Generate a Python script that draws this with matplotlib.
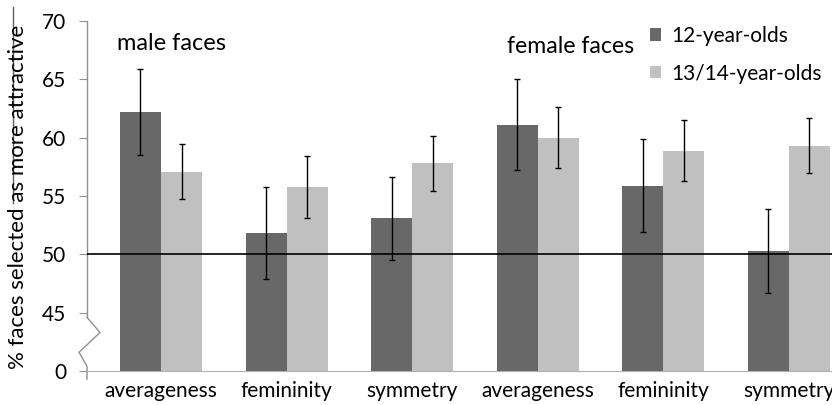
import matplotlib
matplotlib.use("Agg")
import matplotlib.pyplot as plt
from matplotlib.lines import Line2D
import numpy as np

plt.rcParams['font.family'] = ['Lato', 'DejaVu Sans']

# data
categories = ['averageness', 'femininity', 'symmetry',
              'averageness', 'femininity', 'symmetry']
age12 = [62.2, 51.8, 53.1, 61.1, 55.9, 50.3]
age12_err = [3.65, 3.95, 3.55, 3.9, 4.0, 3.6]
age1314 = [57.1, 55.8, 57.8, 60.0, 58.9, 59.3]
age1314_err = [2.35, 2.65, 2.35, 2.6, 2.65, 2.35]
series_names = ['12-year-olds', '13/14-year-olds']
tick_values = [40, 45, 50, 55, 60, 65, 70]
tick_labels = ['0', '45', '50', '55', '60', '65', '70']

dark = '#686868'
light = '#c0c0c0'
base = 40  # the broken axis: "0" sits at the 40 position

fig = plt.figure(figsize=(8.32, 4.05), dpi=100)
ax = fig.add_axes([0.1046, 0.084, 0.8954, 0.864])

x = np.arange(len(categories))
w = 0.327
ax.bar(x - w/2, np.array(age12) - base, w, bottom=base, color=dark,
       label=series_names[0], zorder=2)
ax.bar(x + w/2, np.array(age1314) - base, w, bottom=base, color=light,
       label=series_names[1], zorder=2)
ax.errorbar(x - w/2, age12, yerr=age12_err, fmt='none', ecolor='black',
            elinewidth=1, capsize=2.5, capthick=1, zorder=3)
ax.errorbar(x + w/2, age1314, yerr=age1314_err, fmt='none', ecolor='black',
            elinewidth=1, capsize=2.5, capthick=1, zorder=3)

ax.axhline(50, color='black', lw=1.2, zorder=4)

ax.set_xlim(-0.589, 5.343)
ax.set_ylim(40, 70)
ax.set_yticks(tick_values)
ax.set_yticklabels(tick_labels, fontsize=15)
ax.set_xticks(x)
ax.set_xticklabels(categories, fontsize=15)
ax.tick_params(axis='x', length=0, pad=7)
ax.tick_params(axis='y', length=6, color='#909090', pad=9)

for s in ['top', 'right', 'left']:
    ax.spines[s].set_visible(False)
ax.spines['bottom'].set_color('#b0b0b0')

# left spine with the break zigzag
tr = ax.get_yaxis_transform()
px = 1.0 / 745
ax.add_line(Line2D([0, 0], [70, 44.6], transform=tr, color='#909090',
                   lw=1, clip_on=False))
ax.add_line(Line2D([0, 13*px, -8*px, 0, 0], [44.6, 43.3, 41.6, 40.4, 39.3],
                   transform=tr, color='#909090', lw=1, clip_on=False))

ax.text(-0.35, 68.1, 'male faces', fontsize=17, va='center', ha='left')
ax.text(2.755, 67.8, 'female faces', fontsize=16.6, va='center', ha='left')

ax.legend(loc='upper right', bbox_to_anchor=(1.012, 1.04), frameon=False,
          fontsize=15, handlelength=0.55, handleheight=0.55, handletextpad=0.5,
          labelspacing=0.85)

fig.text(0.022, 0.513, '% faces selected as more attractive', rotation=90,
         fontsize=16, ha='center', va='center')
fig.add_artist(Line2D([13/832, 13/832], [1 - 7/405, 1 - 203/405],
                      transform=fig.transFigure, color='#606060', lw=1))

fig.savefig('out.png', dpi=100)
